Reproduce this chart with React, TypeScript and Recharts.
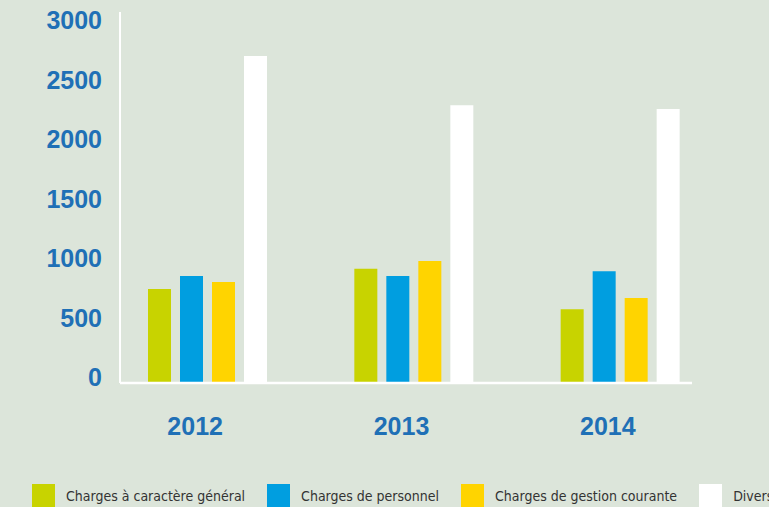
import { BarChart, Bar, XAxis, YAxis } from "recharts";

const years = ["2012", "2013", "2014"];
const chargesGeneral = [790, 960, 620];
const chargesPersonnel = [900, 900, 940];
const chargesGestion = [850, 1025, 715];
const divers = [2750, 2335, 2305];
const yTicks = [0, 500, 1000, 1500, 2000, 2500, 3000];

const series = [
  { key: "general", name: "Charges à caractère général", color: "#c8d300", values: chargesGeneral },
  { key: "personnel", name: "Charges de personnel", color: "#009ee0", values: chargesPersonnel },
  { key: "gestion", name: "Charges de gestion courante", color: "#ffd400", values: chargesGestion },
  { key: "divers", name: "Divers", color: "#ffffff", values: divers },
];

const data = years.map((year, i) => {
  const row: Record<string, string | number> = { year };
  series.forEach((s) => (row[s.key] = s.values[i]));
  return row;
});

const BG = "#dce5da";
const BLUE = "#1f70b6";
const NUM_FONT = "'Liberation Sans', Arial, sans-serif";

const YTick = ({ x, y, payload }: any) => (
  <text
    x={x}
    y={y - 6}
    dy="0.36em"
    textAnchor="end"
    fill={BLUE}
    fontFamily={NUM_FONT}
    fontWeight="bold"
    fontSize={25}
  >
    {payload.value}
  </text>
);

const XTick = ({ x, y, payload }: any) => (
  <text
    x={x - 12}
    y={y}
    dy="0.71em"
    textAnchor="middle"
    fill={BLUE}
    fontFamily={NUM_FONT}
    fontWeight="bold"
    fontSize={25}
  >
    {payload.value}
  </text>
);

export default function App() {
  return (
    <div
      style={{
        position: "fixed",
        left: 0,
        top: 0,
        width: 769,
        height: 507,
        background: BG,
        overflow: "hidden",
      }}
    >
      <BarChart
        width={769}
        height={507}
        data={data}
        margin={{ top: 12, right: 77, bottom: 64, left: 0 }}
        barSize={23}
        barGap={9}
      >
        <XAxis
          dataKey="year"
          axisLine={{ stroke: "#ffffff", strokeWidth: 2.5 }}
          tickLine={false}
          tickSize={0}
          tickMargin={34}
          height={60}
          padding={{ left: -16, right: -31 }}
          tick={<XTick />}
        />
        <YAxis
          domain={[0, 3120]}
          ticks={yTicks}
          width={120}
          axisLine={{ stroke: "#ffffff", strokeWidth: 2 }}
          tickLine={false}
          tickSize={0}
          tickMargin={18}
          tick={<YTick />}
          interval={0}
        />
        {series.map((s) => (
          <Bar
            key={s.key}
            dataKey={s.key}
            name={s.name}
            fill={s.color}
            isAnimationActive={false}
          />
        ))}
      </BarChart>

      {/* Legend, runs off the right edge like the original */}
      <div
        style={{
          position: "absolute",
          left: 32,
          top: 484,
          display: "flex",
          whiteSpace: "nowrap",
          fontFamily: "'DejaVu Sans Condensed', sans-serif",
          fontSize: 14,
          color: "#333333",
        }}
      >
        {series.map((s) => (
          <div
            key={s.key}
            style={{ display: "flex", alignItems: "flex-start", marginRight: 22 }}
          >
            <div style={{ width: 23, height: 23, background: s.color, marginRight: 11 }} />
            <span style={{ lineHeight: "23px", paddingTop: 1 }}>{s.name}</span>
          </div>
        ))}
      </div>
    </div>
  );
}
